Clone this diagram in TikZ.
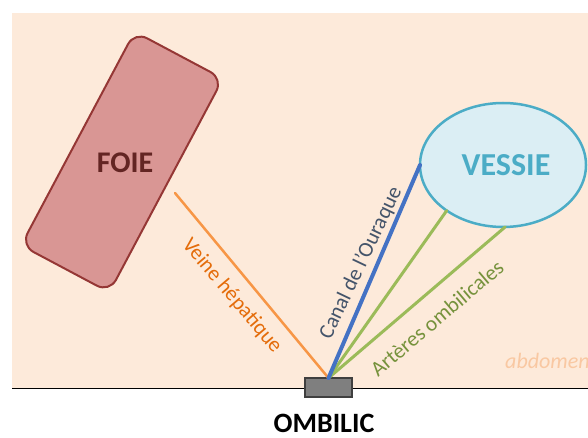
\documentclass[tikz,border=0pt]{standalone}
\usepackage{fontspec}
\setmainfont{Carlito}
\usetikzlibrary{shapes.geometric}
\definecolor{peach}{HTML}{FDEADA}
\definecolor{foiefill}{HTML}{D99694}
\definecolor{foiedraw}{HTML}{953735}
\definecolor{foietext}{HTML}{632523}
\definecolor{vesfill}{HTML}{DBEEF4}
\definecolor{vesdraw}{HTML}{4BACC6}
\definecolor{orangeline}{HTML}{F79646}
\definecolor{orangetext}{HTML}{E46C0A}
\definecolor{blueline}{HTML}{4472C4}
\definecolor{bluetext}{HTML}{44546A}
\definecolor{greenline}{HTML}{9BBB59}
\definecolor{greentext}{HTML}{76923C}
\definecolor{abdotext}{HTML}{F9C8A2}
\definecolor{ombfill}{HTML}{7F7F7F}
\definecolor{ombdraw}{HTML}{3F3F3F}
\begin{document}
\begin{tikzpicture}[x=1pt,y=-1pt,
  organlabel/.style={font=\fontsize{30}{30}\selectfont\bfseries, inner sep=0pt},
  vessellabel/.style={font=\fontsize{21.5}{21.5}\selectfont, inner sep=0pt},
  vessel/.style={line cap=round}]
\useasboundingbox (0,0) rectangle (588,438);
\fill[peach] (12,13) rectangle (588,388);
\draw[black, line width=1pt] (12,388) -- (588,388);
% liver
\node[draw=foiedraw, fill=foiefill, line width=2pt, rounded corners=14pt,
  minimum width=100pt, minimum height=242pt, rotate=-28, inner sep=0pt] (foie) at (122,162) {};
\node[organlabel, text=foietext] (foietxt) at (125,163) {FOIE};
% bladder
\node[ellipse, draw=vesdraw, fill=vesfill, line width=2.5pt,
  minimum width=166pt, minimum height=124pt, inner sep=0pt, outer sep=0pt] (vessie) at (503,165) {};
\node[organlabel, text=vesdraw, font=\fontsize{32}{32}\selectfont\bfseries] (vestxt) at (506,165) {VESSIE};
% umbilicus
\node[draw=ombdraw, fill=ombfill, line width=2pt, minimum width=47pt, minimum height=19pt,
  inner sep=0pt, outer sep=0pt] (omb) at (328.5,387.5) {};
\coordinate (veinestart) at (175,193);
% vessels
\draw[vessel, orangeline, line width=2.5pt] (veinestart) -- (omb.north);
\draw[vessel, greenline, line width=3pt] (vessie.219) -- (omb.north);
\draw[vessel, greenline, line width=3pt] (vessie.272) -- (omb.north);
\draw[vessel, blueline, line width=4pt] (vessie.west) -- (omb.north);
% labels
\node[vessellabel, text=orangetext, rotate=-49.7] (veinetxt) at (232,296) {Veine hépatique};
\node[vessellabel, text=bluetext, rotate=64.5] (canaltxt) at (361,263) {Canal de l'Ouraque};
\node[vessellabel, text=greentext, rotate=40.3] (artxt) at (437,318) {Artères ombilicales};
\node[font=\fontsize{22}{22}\selectfont\itshape, text=abdotext, anchor=base west, inner sep=0pt] (abdo) at (505,368) {abdomen};
\node[font=\fontsize{28}{28}\selectfont\bfseries, inner sep=0pt] (ombtxt) at (324,423) {OMBILIC};
\end{tikzpicture}
\end{document}
